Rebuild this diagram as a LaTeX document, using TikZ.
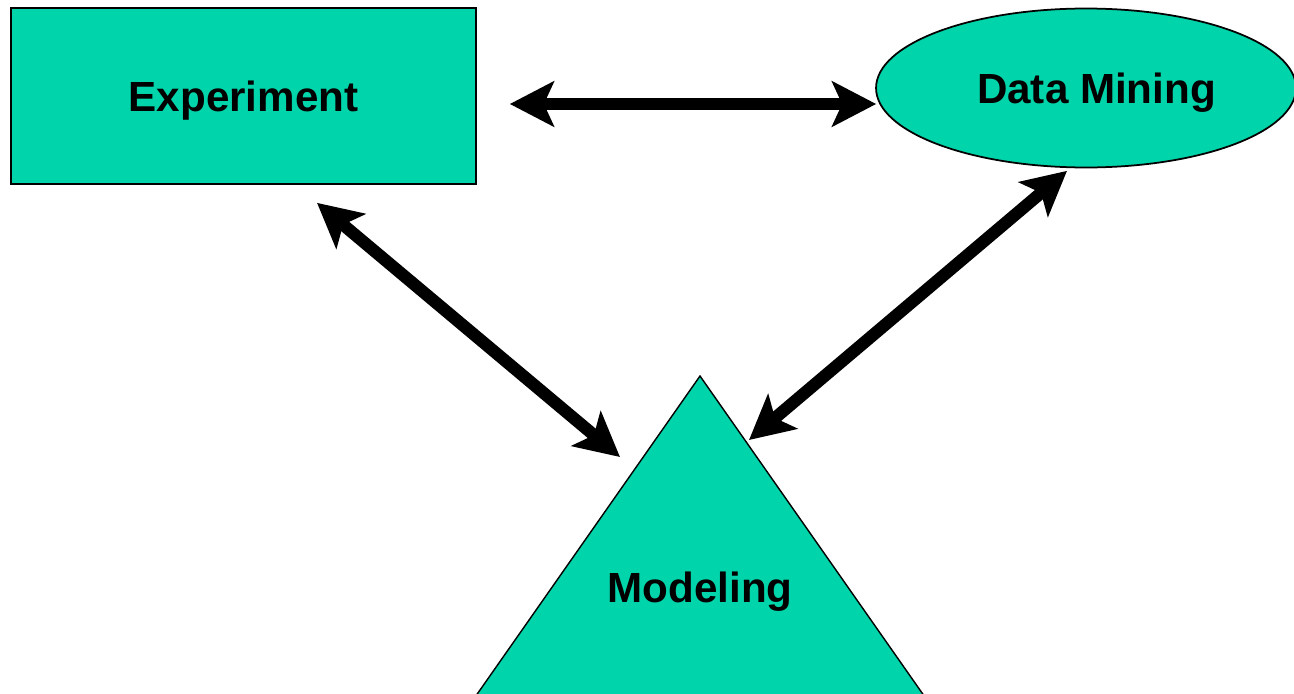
\documentclass[tikz,border=0pt]{standalone}
\usepackage{fontspec}
\setmainfont{Liberation Sans}
\usetikzlibrary{arrows.meta,shapes.geometric}
\definecolor{tealfill}{RGB}{0,212,170}
\begin{document}
\begin{tikzpicture}[
    x=0.02cm, y=-0.02cm,
    every node/.style={font=\fontsize{24}{28}\selectfont\bfseries, text depth=0pt},
    box/.style={draw, line width=1pt, fill=tealfill, minimum width=9.3cm, minimum height=3.52cm},
    blob/.style={draw, ellipse, line width=1pt, fill=tealfill, minimum width=8.4cm, minimum height=3.18cm},
    link/.style={{Stealth[length=0.88cm, width=0.9cm, inset=0.2cm]}-{Stealth[length=0.88cm, width=0.9cm, inset=0.2cm]}, line width=7pt},
    ]

    \useasboundingbox (0,0) rectangle (1294,693);

    \node[box] (exp) at (243.5,96) {Experiment};
    \node[blob] (dm) at (1086,88) {\hspace*{12pt}Data Mining};

    \coordinate (apex) at (700,376);
    \draw[line width=0.8pt, fill=tealfill] (apex) -- (459,720) -- (941,720) -- cycle;
    \node (model) at (700,587) {Modeling};

    \draw[link] ([shift={(33,8)}]exp.east) -- ([shift={(1,16)}]dm.west);
    \draw[link] ([shift={(73.5,18)}]exp.south) -- ([shift={(-80,81)}]apex);
    \draw[link] ([shift={(-19,2.5)}]dm.south) -- ([shift={(49,64)}]apex);

\end{tikzpicture}
\end{document}
